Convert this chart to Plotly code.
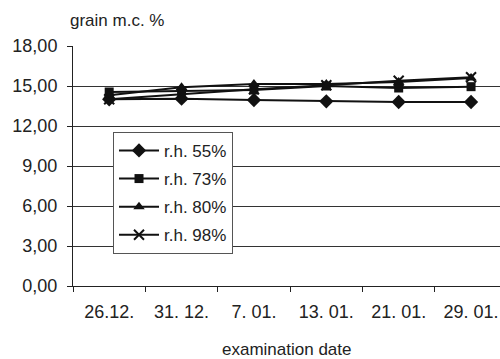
import plotly.graph_objects as go

dates = ["26.12.", "31. 12.", "7. 01.", "13. 01.", "21. 01.", "29. 01."]
rh55 = [14.0, 14.05, 13.95, 13.85, 13.8, 13.8]
rh73 = [14.55, 14.6, 14.7, 15.0, 14.85, 14.95]
rh80 = [14.3, 14.9, 15.15, 15.15, 15.3, 15.6]
rh98 = [14.0, 14.4, 14.75, 15.05, 15.4, 15.65]
series_names = ["r.h. 55%", "r.h. 73%", "r.h. 80%", "r.h. 98%"]
y_ticks = [0, 3, 6, 9, 12, 15, 18]
y_tick_labels = ["0,00", "3,00", "6,00", "9,00", "12,00", "15,00", "18,00"]

FONT = "Liberation Sans, Arial, sans-serif"
symbols = ["diamond", "square", "triangle-up", "x-thin"]
sizes = [11, 9, 10, 10]

fig = go.Figure()
for i, (name, vals) in enumerate(zip(series_names, [rh55, rh73, rh80, rh98])):
    fig.add_trace(go.Scatter(
        x=dates, y=vals, name=name, mode="lines+markers",
        legendgroup=name,
        line=dict(color="#111111", width=2),
        marker=dict(symbol=symbols[i], size=sizes[i], color="#111111",
                    line=dict(color="#111111", width=2 if symbols[i] == "x-thin" else 0)),
    ))

fig.update_layout(
    width=500, height=359,
    margin=dict(l=73, r=0, t=46, b=73),
    paper_bgcolor="white", plot_bgcolor="white",
    font=dict(family=FONT, color="#222222"),
    showlegend=True,
    legend=dict(
        x=0.0937, y=0.642, xanchor="left", yanchor="top",
        bgcolor="white", bordercolor="#555555", borderwidth=1,
        font=dict(size=17, family=FONT, color="#222222"),
        tracegroupgap=3, itemwidth=40,
    ),
    xaxis=dict(
        type="category", range=[-0.5, 5.4],
        tickson="boundaries", ticks="outside", ticklen=5, tickcolor="#222222",
        showline=True, linecolor="#222222", linewidth=1,
        showgrid=False, zeroline=False,
        tickfont=dict(size=18, family=FONT, color="#222222"),
        ticklabelstandoff=9,
    ),
    yaxis=dict(
        range=[0, 18], tickmode="array", tickvals=y_ticks, ticktext=y_tick_labels,
        ticks="outside", ticklen=5, tickcolor="#222222",
        showline=True, linecolor="#222222", linewidth=1,
        showgrid=True, gridcolor="#333333", gridwidth=1, zeroline=False,
        tickfont=dict(size=18, family=FONT, color="#222222"),
        ticklabelstandoff=6,
    ),
    annotations=[
        dict(text="grain m.c. %", xref="paper", yref="paper", x=-0.012, y=1.108,
             xanchor="left", yanchor="middle", showarrow=False,
             font=dict(size=17, family=FONT, color="#222222")),
        dict(text="examination date", xref="paper", yref="paper", x=0.501, y=-0.265,
             xanchor="center", yanchor="middle", showarrow=False,
             font=dict(size=17, family=FONT, color="#222222")),
    ],
)

fig.write_html("out.html")
